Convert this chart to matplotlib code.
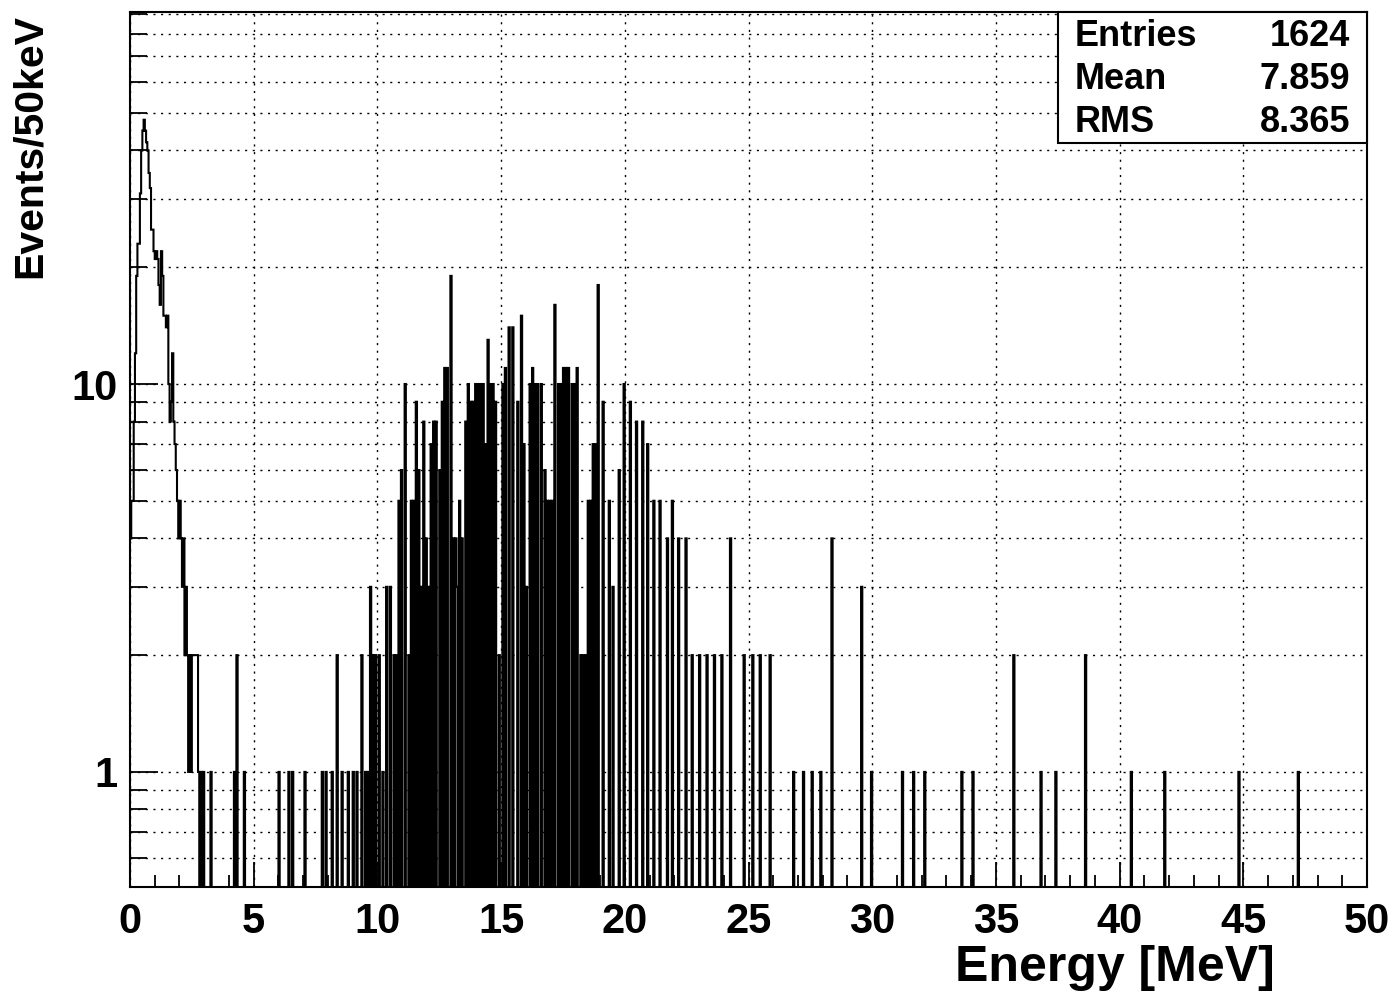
import numpy as np
import matplotlib
matplotlib.use("Agg")
import matplotlib.pyplot as plt
from matplotlib.ticker import FixedLocator, NullFormatter, FixedFormatter

plt.rcParams["font.family"] = ["Liberation Sans", "DejaVu Sans"]
plt.rcParams["font.weight"] = "bold"

# 1000 bins of 50 keV from 0 to 50 MeV
n_bins = 1000
e_min, e_max = 0.0, 50.0

# low-energy peak, consecutive bins starting at bin 0
low_counts = [4, 5, 5, 8, 12, 19, 23, 23, 31, 40, 45, 48, 45, 42, 40, 35, 32,
              25, 25, 22, 21, 22, 21, 18, 16, 22, 19, 15, 15, 14, 15, 10, 8, 9,
              12, 8, 7, 6, 5, 4, 5, 4, 3, 4, 2, 3, 2, 1, 2, 1, 2, 2, 2, 2, 2, 1,
              0, 1]

# isolated non-empty bins above the peak (bin index, content)
spike_bins = [59, 65, 84, 86, 92, 120, 128, 131, 141, 155, 158, 163, 167, 171,
              176, 180, 183, 187, 190, 192,
              194, 196, 198, 201, 204, 207, 210, 213, 215, 217, 219, 222, 225,
              227, 229, 231, 233, 235, 237, 239, 241, 243, 245, 247, 250, 252,
              254, 256, 259, 261, 263, 264, 266, 268, 271, 273, 275, 277, 279,
              281, 283, 285, 287, 289, 291, 293, 295, 298, 301, 303, 306, 309,
              313, 316, 318, 320, 323, 325, 327, 329, 332, 335, 337, 339, 341,
              343, 346, 348, 350, 352, 354, 357, 359, 361, 364, 366, 368, 370,
              372, 374, 376, 378, 382, 387, 390, 395, 399, 404,
              409, 414, 418, 423, 428, 434, 438, 443, 449, 454, 460, 466, 472,
              478, 485, 496, 503, 509, 517, 536, 544, 551, 558, 567, 591, 599,
              624, 633, 642, 672, 681, 714, 736, 748, 772, 809, 836, 896, 944]
spike_counts = [1, 1, 1, 2, 1, 1, 1, 1, 1, 1, 1, 1, 2, 1,
                1, 1, 1, 2, 1, 1,
                3, 2, 2, 2, 1, 3, 3, 2, 2, 5, 6, 10, 2,
                5, 5, 9, 6, 3, 8, 4, 3, 7, 8, 8, 6, 9,
                11, 11, 19, 4, 4, 3, 5, 4, 8, 10, 9, 9, 10,
                10, 10, 10, 7, 13, 10, 10, 9, 2, 10, 11, 14, 14,
                9, 15, 7, 3, 10, 11, 10, 10, 10, 6, 5, 5, 5,
                16, 10, 10, 11, 11, 11, 10, 10, 11, 2, 2, 2, 5,
                5, 7, 7, 18, 9, 5, 3, 6, 10, 9,
                8, 8, 7, 5, 5, 4, 5, 4, 4, 2, 2, 2, 2,
                2, 4, 2, 2, 2, 2, 1, 1, 1, 1, 4, 3, 1,
                1, 1, 1, 1, 1, 2, 1, 1, 2, 1, 1, 1, 1]

stats_names = ["Entries", "Mean", "RMS"]
stats_values = ["1624", "7.859", "8.365"]

counts = np.zeros(n_bins)
counts[:len(low_counts)] = low_counts
counts[spike_bins] = spike_counts
edges = np.linspace(e_min, e_max, n_bins + 1)

fig = plt.figure(figsize=(13.94, 9.97), dpi=100)
ax = fig.add_axes([130 / 1394, 110 / 997, 1237 / 1394, 875 / 997])

# empty bins drop below the log axis like ROOT does
shown = np.where(counts > 0, counts, 1e-3)
ax.stairs(shown, edges, baseline=None, color="black", lw=1.5, zorder=3)

ax.set_yscale("log")
ax.set_xlim(e_min, e_max)
ax.set_ylim(0.505, 91)

# ticks and grid
ax.xaxis.set_major_locator(FixedLocator(np.arange(0, 51, 5)))
ax.xaxis.set_minor_locator(FixedLocator(np.arange(0, 51, 1)))
y_major = [1, 10]
y_minor = [0.6, 0.7, 0.8, 0.9, 2, 3, 4, 5, 6, 7, 8, 9, 20, 30, 40, 50, 60, 70, 80, 90]
ax.yaxis.set_major_locator(FixedLocator(y_major))
ax.yaxis.set_major_formatter(FixedFormatter(["1", "10"]))
ax.yaxis.set_minor_locator(FixedLocator(y_minor))
ax.yaxis.set_minor_formatter(NullFormatter())

ax.tick_params(axis="both", which="both", direction="in", colors="black",
               width=1.3, labelsize=30)
ax.tick_params(axis="x", which="major", length=18, pad=11)
ax.tick_params(axis="x", which="minor", length=9)
ax.tick_params(axis="y", which="major", length=20, pad=9)
ax.tick_params(axis="y", which="minor", length=12)
for lab in ax.get_xticklabels() + ax.get_yticklabels():
    lab.set_fontweight("bold")

grid_kw = dict(color="black", lw=1.0, linestyle=(0, (1.5, 4.0)))
ax.grid(True, axis="x", which="major", **grid_kw)
ax.grid(True, axis="y", which="both", **grid_kw)
ax.set_axisbelow(True)

for sp in ax.spines.values():
    sp.set_linewidth(1.5)

fig.text(1275 / 1394, 1 - 968 / 997, "Energy [MeV]", ha="right", va="center",
         fontsize=36, fontweight="bold")
fig.text(30 / 1394, 1 - 14 / 997, "Events/50keV", ha="center", va="top",
         rotation=90, fontsize=29.5, fontweight="bold")

# statistics box
box = plt.Rectangle((1058 / 1394, 1 - 143 / 997), (1367 - 1058) / 1394,
                    (143 - 12) / 997, transform=fig.transFigure,
                    facecolor="white", edgecolor="black", lw=1.5, zorder=5)
fig.add_artist(box)
for i, (name, val) in enumerate(zip(stats_names, stats_values)):
    yc = 1 - (36 + 43.5 * i) / 997
    fig.text(1075 / 1394, yc, name, ha="left", va="center", fontsize=26,
             fontweight="bold", zorder=6)
    fig.text(1350 / 1394, yc, val, ha="right", va="center", fontsize=26,
             fontweight="bold", zorder=6)

fig.savefig("out.png", dpi=100)
